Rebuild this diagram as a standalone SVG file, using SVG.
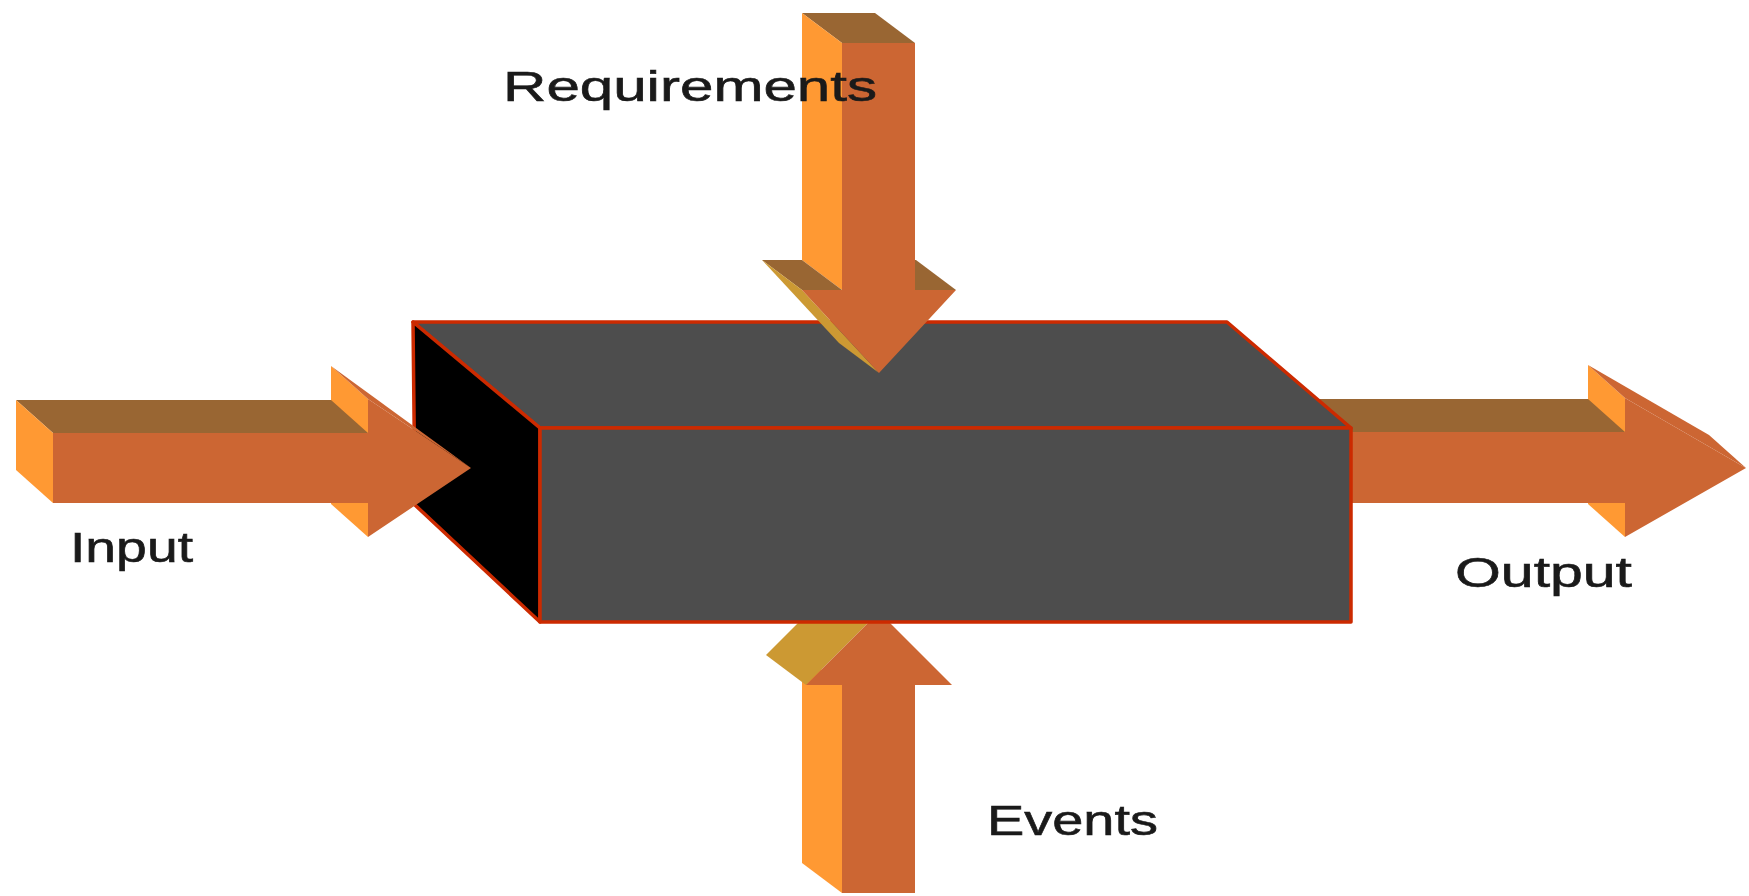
<svg xmlns="http://www.w3.org/2000/svg" width="1749" height="896" viewBox="0 0 1749 896">
  <style>
    .front { fill: #CC6633; }
    .light { fill: #FF9933; }
    .top { fill: #996633; }
    .slant { fill: #CC9933; }
    .face-top, .face-front { fill: #4D4D4D; stroke: #CC2a00; stroke-width: 3.5; stroke-linejoin: round; }
    .face-side { fill: #000000; stroke: #CC2a00; stroke-width: 3.5; stroke-linejoin: round; }
    .label { font-family: "Liberation Sans", Arial, sans-serif; font-size: 43px; fill: #1a1a1a; stroke: #1a1a1a; stroke-width: 0.6; }
  </style>
  <rect width="1749" height="896" fill="#FFFFFF"/>

  <!-- arrows that pass behind the box -->
  <g id="connectors-back">
    <!-- Output: extruded arrow pointing right -->
    <g id="output-arrow">
      <polygon class="light" points="1588,365 1625,398 1625,537 1588,504"/>
      <polygon class="top" points="1300,399 1588,399 1625,432 1337,432"/>
      <polygon class="front" points="1588,365 1625,398 1746,468 1709,435"/>
      <polygon class="front" points="1337,432 1625,432 1625,398 1746,468 1625,537 1625,503 1337,503"/>
    </g>
    <!-- Events: extruded arrow pointing up -->
    <g id="events-arrow">
      <polygon class="light" points="802,655 842,685 842,893 802,863"/>
      <polygon class="slant" points="766,655 806,685 879,612 839,582"/>
      <polygon class="front" points="879,612 952,685 915,685 915,893 842,893 842,685 806,685"/>
    </g>
  </g>

  <!-- the process block -->
  <g id="process-box">
    <polygon class="face-top" points="413,322 1227,322 1351,428 540,428"/>
    <polygon class="face-side" points="413,322 540,428 540,622 415,505"/>
    <polygon class="face-front" points="540,428 1351,428 1351,622 540,622"/>
  </g>

  <!-- arrows drawn in front of the box -->
  <g id="connectors-front">
    <!-- Input: extruded arrow pointing right -->
    <g id="input-arrow">
      <polygon class="light" points="331,366 368,399 368,537 331,504"/>
      <polygon class="top" points="16,400 331,400 368,433 53,433"/>
      <polygon class="light" points="16,400 53,433 53,503 16,470"/>
      <polygon class="front" points="331,366 368,399 471,468"/>
      <polygon class="front" points="53,433 368,433 368,399 471,468 368,537 368,503 53,503"/>
    </g>
    <!-- Requirements: extruded arrow pointing down -->
    <g id="requirements-arrow">
      <polygon class="top" points="802,13 875,13 915,43 842,43"/>
      <polygon class="light" points="802,13 842,43 842,290 802,260"/>
      <polygon class="top" points="762,260 802,260 842,290 802,290"/>
      <polygon class="top" points="875,260 916,260 956,290 915,290"/>
      <polygon class="slant" points="762,260 802,290 879,373 839,343"/>
      <polygon class="front" points="842,43 915,43 915,290 956,290 879,373 802,290 842,290"/>
    </g>
  </g>

  <!-- labels -->
  <g id="label-requirements"><text class="label" x="503" y="101" textLength="374" lengthAdjust="spacingAndGlyphs">Requirements</text></g>
  <g id="label-input"><text class="label" x="70" y="562" textLength="123" lengthAdjust="spacingAndGlyphs">Input</text></g>
  <g id="label-output"><text class="label" x="1455" y="587" textLength="177" lengthAdjust="spacingAndGlyphs">Output</text></g>
  <g id="label-events"><text class="label" x="987" y="835" textLength="171" lengthAdjust="spacingAndGlyphs">Events</text></g>
</svg>
